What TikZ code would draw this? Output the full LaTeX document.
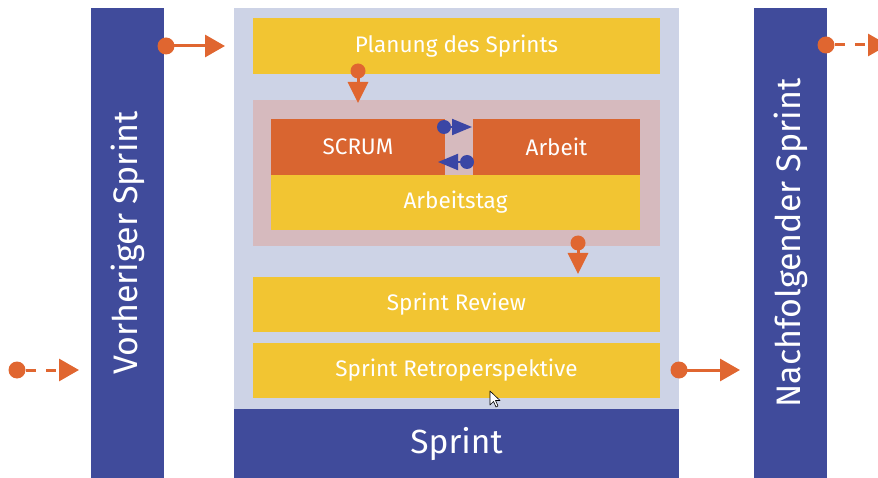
\documentclass[tikz,border=0pt]{standalone}
\usepackage{fontspec}
\setmainfont{Fira Sans}
\usetikzlibrary{arrows.meta}
\definecolor{barblue}{RGB}{64,75,155}
\definecolor{panel}{RGB}{205,211,230}
\definecolor{gold}{RGB}{242,197,50}
\definecolor{rust}{RGB}{217,101,48}
\definecolor{rose}{RGB}{214,186,190}
\definecolor{flow}{RGB}{224,102,48}
\definecolor{swapblue}{RGB}{58,70,165}
\tikzset{
  area/.style={fill=#1, draw=none, inner sep=0pt, outer sep=0pt},
  boxfont/.style={font=\fontsize{22.5}{24}\selectfont},
  stepbox/.style={area=gold, text=white, boxfont},
  sidebar/.style={area=barblue, text=white},
  sidelabel/.style={rotate=90, text=white, font=\fontsize{34}{36}\selectfont},
  flowarrow/.style={draw=flow, line width=3pt, -{Triangle[length=20pt,width=22pt]}},
  downarrow/.style={draw=flow, line width=3pt, -{Triangle[length=21pt,width=20pt]}},
  swaparrow/.style={draw=swapblue, line width=2pt, -{Triangle[length=20pt,width=16pt]}},
  dashedflow/.style={flowarrow, dash pattern=on 10pt off 10pt, dash phase=10pt},
}
\begin{document}
\begin{tikzpicture}[x=1pt,y=-1pt]
\useasboundingbox (0,0) rectangle (878,478);

% side bars
\node[sidebar, minimum width=73pt, minimum height=470pt] (prev) at (127.5,243) {};
\node[sidelabel] at (prev) {Vorheriger Sprint};
\node[sidebar, minimum width=73pt, minimum height=470pt] (next) at (790.5,243) {};
\node[sidelabel] at (next) {Nachfolgender Sprint};

% sprint panel
\node[area=panel, minimum width=445pt, minimum height=402pt] (panel) at (456.5,209) {};
\node[area=barblue, text=white, font=\fontsize{33.5}{36}\selectfont,
      minimum width=445pt, minimum height=71pt] (sprint) at (456.5,444) {Sprint};

% steps of the sprint
\node[stepbox, minimum width=407pt, minimum height=56pt] (plan) at (456.5,46) {Planung des Sprints};
\node[area=rose, minimum width=407pt, minimum height=146pt] (day) at (456.5,173) {};
\node[stepbox, minimum width=369pt, minimum height=55pt] (arbeitstag) at (455.5,202.5) {Arbeitstag};
\node[area=rust, text=white, boxfont,
      minimum width=174pt, minimum height=56pt] (scrum) at (358,147) {SCRUM};
\node[area=rust, text=white, boxfont,
      minimum width=167pt, minimum height=56pt] (arbeit) at (556.5,147) {Arbeit};
\node[stepbox, minimum width=407pt, minimum height=55pt] (review) at (456.5,304.5) {Sprint Review};
\node[stepbox, minimum width=407pt, minimum height=55pt] (retro) at (456.5,370.5) {Sprint Retroperspektive};

% connector end points
\coordinate (prevout) at (166,46);   \coordinate (planin) at (225,46);
\coordinate (planout) at (358,71);   \coordinate (dayin) at (358,103);
\coordinate (dayout) at (578,243);   \coordinate (reviewin) at (578,274);
\coordinate (retroout) at (679,370); \coordinate (nextin) at (740,370);
\coordinate (toscrum) at (444,127);  \coordinate (toarbeit) at (472,127);
\coordinate (fromarbeit) at (467,162); \coordinate (fromscrum) at (438,162);
\coordinate (earlier) at (17,370);   \coordinate (previn) at (79,370);
\coordinate (nextout) at (826,45);   \coordinate (later) at (888,45);

% connectors
\draw[flowarrow] (prevout) -- (planin);
\draw[downarrow] (planout) -- (dayin);
\draw[downarrow] (dayout) -- (reviewin);
\draw[flowarrow] (retroout) -- (nextin);
\draw[swaparrow] (toscrum) -- (toarbeit);
\draw[swaparrow] (fromarbeit) -- (fromscrum);
\draw[dashedflow] ([xshift=-1pt]earlier) -- (previn);
\draw[dashedflow] ([xshift=-1pt]nextout) -- (later);

% connector start dots
\fill[flow] (prevout) circle (8.5pt);
\fill[flow] (planout) circle (7.5pt);
\fill[flow] (dayout) circle (7.5pt);
\fill[flow] (retroout) circle (8.5pt);
\fill[flow] (earlier) circle (8.5pt);
\fill[flow] (nextout) circle (8.5pt);
\fill[swapblue] (toscrum) circle (7pt);
\fill[swapblue] (fromarbeit) circle (7pt);

% pointer
\draw[fill=white, draw=black, line width=0.6pt, line join=round]
  (490,391) -- (490,405) -- (493.5,401.5) -- (496,407) -- (498,406) -- (495.5,400.5) -- (500,400.5) -- cycle;
\end{tikzpicture}
\end{document}
